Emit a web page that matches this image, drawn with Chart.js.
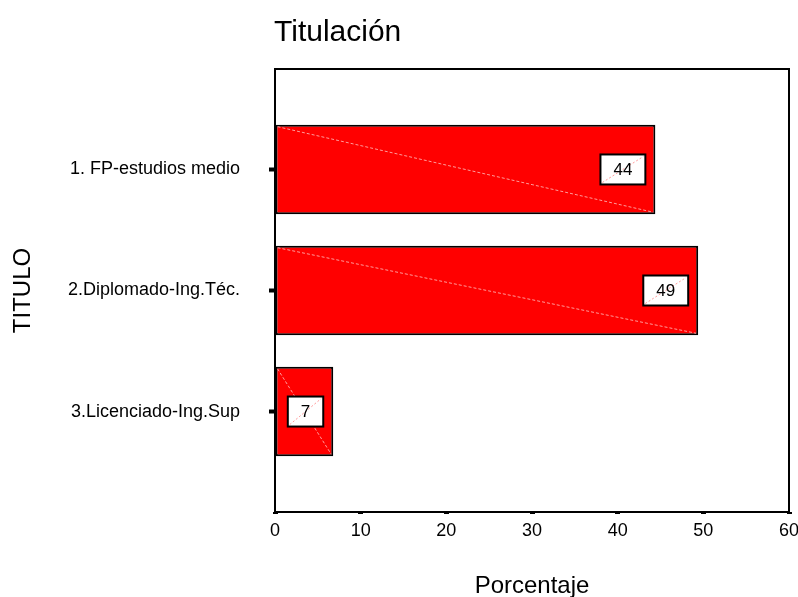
<!DOCTYPE html>
<html>
<head>
<meta charset="utf-8">
<script src="https://cdn.jsdelivr.net/npm/chart.js@4/dist/chart.umd.min.js"></script>
<style>
  body { margin: 0; background: #fff; }
  #wrap { width: 798px; height: 597px; position: relative; }
</style>
</head>
<body>
<div id="wrap"><canvas id="chart"></canvas></div>
<script>
const chartTitle = 'Titulación';
const categories = ['1. FP-estudios medio', '2.Diplomado-Ing.Téc.', '3.Licenciado-Ing.Sup'];
const percentages = [44.4, 49.4, 6.8];
const xTicks = { min: 0, max: 60, step: 10 };

const FONT = "'Liberation Sans', Arial, sans-serif";

// frame, chart title, diagonal hatch lines and the white value boxes
const spssDecor = {
  id: 'spssDecor',
  afterDatasetsDraw(chart) {
    const { ctx, chartArea } = chart;
    const meta = chart.getDatasetMeta(0);
    ctx.save();

    meta.data.forEach((bar, i) => {
      const { x, y, base, height } = bar.getProps(['x', 'y', 'base', 'height'], true);
      const top = y - height / 2;
      const bottom = y + height / 2;

      ctx.strokeStyle = '#ff9c9c';
      ctx.lineWidth = 1;
      ctx.setLineDash([3, 2]);
      ctx.beginPath();
      ctx.moveTo(base + 2, top + 2);
      ctx.lineTo(x - 2, bottom - 2);
      ctx.stroke();
      ctx.setLineDash([]);

      const label = String(Math.round(percentages[i]));
      ctx.font = '17px ' + FONT;
      const w = ctx.measureText(label).width + 26;
      const h = 30;
      let bx = x - 10 - w;
      if (bx < base + 10) bx = (base + x) / 2 - w / 2;
      const by = y - h / 2;

      ctx.fillStyle = '#fff';
      ctx.fillRect(bx, by, w, h);
      ctx.strokeStyle = '#ff9c9c';
      ctx.setLineDash([2, 2]);
      ctx.beginPath();
      ctx.moveTo(bx + 2, by + h - 2);
      ctx.lineTo(bx + w - 2, by + 2);
      ctx.stroke();
      ctx.setLineDash([]);
      ctx.strokeStyle = '#000';
      ctx.lineWidth = 2;
      ctx.strokeRect(bx, by, w, h);

      ctx.fillStyle = '#000';
      ctx.textAlign = 'center';
      ctx.textBaseline = 'middle';
      ctx.fillText(label, bx + w / 2, y + 1);
    });

    ctx.strokeStyle = '#000';
    ctx.lineWidth = 2;
    ctx.strokeRect(chartArea.left, chartArea.top, chartArea.right - chartArea.left, chartArea.bottom - chartArea.top);

    ctx.fillStyle = '#000';
    ctx.font = '30px ' + FONT;
    ctx.textAlign = 'left';
    ctx.textBaseline = 'alphabetic';
    ctx.fillText(chartTitle, chartArea.left - 1, 41);
    ctx.restore();
  }
};

new Chart(document.getElementById('chart'), {
  type: 'bar',
  data: {
    datasets: [{
      data: percentages.map((v, i) => ({ x: v, y: i })),
      backgroundColor: '#ff0000',
      borderColor: '#000',
      borderWidth: 2,
      borderSkipped: false,
      barPercentage: 0.74,
      categoryPercentage: 1
    }]
  },
  options: {
    indexAxis: 'y',
    responsive: true,
    maintainAspectRatio: false,
    animation: false,
    layout: { padding: { top: 69, right: 9, left: 0, bottom: 0 } },
    plugins: {
      legend: { display: false },
      tooltip: { enabled: false }
    },
    scales: {
      x: {
        type: 'linear',
        min: xTicks.min,
        max: xTicks.max,
        border: { display: false },
        grid: { drawOnChartArea: false, tickLength: 2, tickWidth: 5, tickColor: '#000' },
        ticks: { stepSize: xTicks.step, color: '#000', padding: 6, font: { family: FONT, size: 18 } },
        title: {
          display: true,
          text: 'Porcentaje',
          color: '#000',
          font: { family: FONT, size: 24, lineHeight: 0.9 },
          padding: { top: 0, bottom: 0 }
        },
        afterFit: (scale) => {
          scale.height = 85;
          scale.paddingLeft = 0;
          scale.paddingRight = 0;
        }
      },
      y: {
        type: 'linear',
        reverse: true,
        offset: false,
        min: -0.83,
        max: 2.83,
        border: { display: false },
        grid: { offset: false, drawOnChartArea: false, tickLength: 6, tickWidth: 4, tickColor: '#000' },
        afterBuildTicks: (scale) => { scale.ticks = categories.map((c, i) => ({ value: i })); },
        ticks: {
          autoSkip: false,
          color: '#000',
          padding: 29,
          font: { family: FONT, size: 18 },
          callback: (value) => categories[value]
        },
        title: {
          display: true,
          text: 'TITULO',
          color: '#000',
          font: { family: FONT, size: 24 },
          padding: { top: 9, bottom: 0 }
        },
        afterFit: (scale) => {
          scale.width = 275;
          scale.paddingTop = 0;
          scale.paddingBottom = 0;
        }
      }
    }
  },
  plugins: [spssDecor]
});
</script>
</body>
</html>
